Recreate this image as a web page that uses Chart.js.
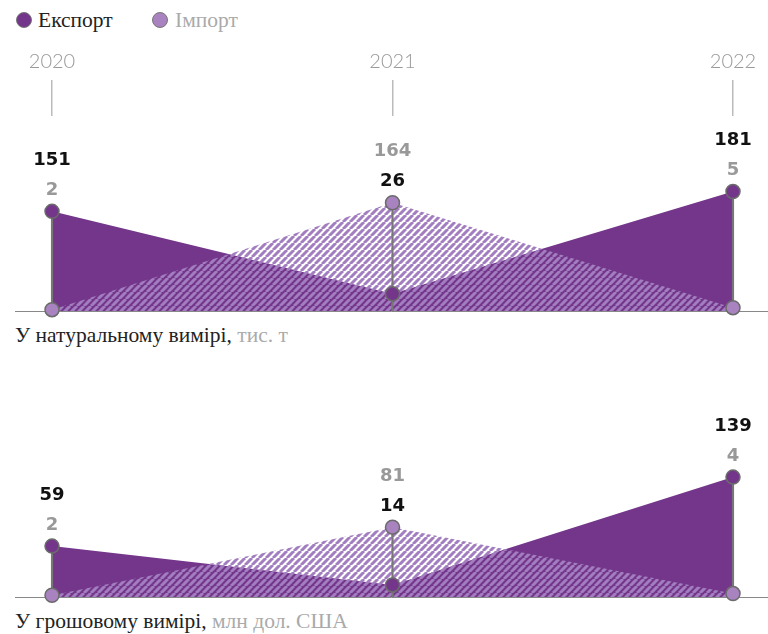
<!DOCTYPE html>
<html><head><meta charset="utf-8">
<script src="https://cdn.jsdelivr.net/npm/chart.js@4"></script>
<style>
html,body{margin:0;padding:0;background:#fff;width:768px;height:634px;overflow:hidden;position:relative}
.t{position:absolute;font-family:"Liberation Serif",serif;font-size:21.5px;white-space:nowrap;line-height:24px;color:#222}
.g{color:#aaa}
.dot{position:absolute;width:16px;height:16px;border-radius:50%;border:1.3px solid #777;box-sizing:border-box}
canvas{position:absolute;left:0}
#c1{top:40px}
#c2{top:390px}
</style></head>
<body>
<div class="dot" style="left:16px;top:12px;background:#74368a"></div>
<div class="t" style="left:38px;top:8px">Експорт</div>
<div class="dot" style="left:152px;top:12px;background:#a883c0"></div>
<div class="t g" style="left:175px;top:8px">Імпорт</div>
<canvas id="c1" width="768" height="281"></canvas>
<div class="t" style="left:15px;top:323px">У натуральному вимірі, <span class="g">тис. т</span></div>
<canvas id="c2" width="768" height="217"></canvas>
<div class="t" style="left:15px;top:609px">У грошовому вимірі, <span class="g">млн дол. США</span></div>
<script>
const yearLabels = ['2020', '2021', '2022'];
const exportTons = [151, 26, 181];
const importTons = [2, 164, 5];
const exportUsd = [59, 14, 139];
const importUsd = [2, 81, 4];

const EXP = '#74368a', IMP_PT = '#a883c0', STRIPE = '#a27dbf';

function hatch() {
  const s = 7, c = document.createElement('canvas');
  c.width = s; c.height = s;
  const g = c.getContext('2d');
  g.strokeStyle = STRIPE; g.lineWidth = 3;
  g.beginPath();
  for (let k = -1; k <= 1; k++) { g.moveTo(k * s, s); g.lineTo(k * s + s, 0); }
  g.stroke();
  return g.createPattern(c, 'repeat');
}

const valuesPlugin = {
  id: 'vals',
  afterDatasetsDraw(chart, args, opts) {
    const { ctx, scales: { x, y } } = chart;
    const ex = opts.exp, im = opts.imp;
    ctx.save();
    ctx.font = 'bold 18px "DejaVu Sans"';
    ctx.textAlign = 'center'; ctx.textBaseline = 'middle';
    for (let i = 0; i < ex.length; i++) {
      const expHigh = ex[i] >= im[i];
      const py = y.getPixelForValue(Math.max(ex[i], im[i]));
      const px = x.getPixelForValue(i);
      ctx.fillStyle = expHigh ? '#111' : '#999';
      ctx.fillText(String(expHigh ? ex[i] : im[i]), px, py - 51);
      ctx.fillStyle = expHigh ? '#999' : '#111';
      ctx.fillText(String(expHigh ? im[i] : ex[i]), px, py - 21);
    }
    ctx.restore();
  },
  beforeDatasetDraw(chart, args) {
    if (args.index !== 2) return;
    const { ctx, chartArea, scales: { y } } = chart;
    const yy = Math.round(y.getPixelForValue(0)) + 0.5;
    ctx.save();
    ctx.strokeStyle = '#888'; ctx.lineWidth = 1;
    ctx.beginPath(); ctx.moveTo(chartArea.left, yy); ctx.lineTo(chartArea.right, yy); ctx.stroke();
    ctx.restore();
  }
};

function pts(a) { return a.map((v, i) => ({ x: i, y: v })); }

function makeChart(id, exp, imp, yMax, showYears) {
  const stems = exp.map((v, i) => ({ x: i, y: [0, Math.max(v, imp[i])] }));
  return new Chart(document.getElementById(id), {
    type: 'line',
    data: {
      datasets: [
        { data: pts(exp), fill: 'origin', backgroundColor: EXP, borderWidth: 0, pointRadius: 0, tension: 0, order: 5 },
        { data: pts(imp), fill: 'origin', backgroundColor: hatch(), borderWidth: 0, pointRadius: 0, tension: 0, order: 4 },
        { type: 'bar', data: stems, backgroundColor: '#777', barThickness: 1.5, grouped: false, order: 3, clip: false },
        { data: pts(exp), showLine: false, pointRadius: 7, pointHoverRadius: 7, pointBackgroundColor: EXP, pointBorderColor: '#6b6b6b', pointBorderWidth: 1.5, order: 2, clip: false },
        { data: pts(imp), showLine: false, pointRadius: 7, pointHoverRadius: 7, pointBackgroundColor: IMP_PT, pointBorderColor: '#6b6b6b', pointBorderWidth: 1.5, order: 1, clip: false }
      ]
    },
    options: {
      responsive: false, animation: false, devicePixelRatio: 1,
      layout: { autoPadding: false, padding: { left: 15, right: 0, top: 0, bottom: 10 } },
      plugins: { legend: { display: false }, tooltip: { enabled: false }, vals: { exp: exp, imp: imp } },
      scales: {
        x: {
          type: 'linear', position: 'top', min: -0.1087, max: 2.1028, bounds: 'data',
          offset: false,
          display: showYears,
          afterBuildTicks(s) { s.ticks = yearLabels.map((_, i) => ({ value: i })); },
          afterFit(s) { s.height = showYears ? 76 : 0; },
          ticks: { callback: v => yearLabels[v], padding: 6, color: '#999', font: { family: 'Lato', weight: '300', size: 20 }, maxRotation: 0, autoSkip: false },
          grid: { offset: false, drawOnChartArea: false, drawTicks: true, tickLength: 36, color: '#bbb', lineWidth: 1.5 },
          border: { display: false }
        },
        y: { display: false, min: 0, max: yMax }
      }
    },
    plugins: [valuesPlugin]
  });
}

makeChart('c1', exportTons, importTons, 295.5, true);
makeChart('c2', exportUsd, importUsd, 240, false);
</script>
</body></html>
